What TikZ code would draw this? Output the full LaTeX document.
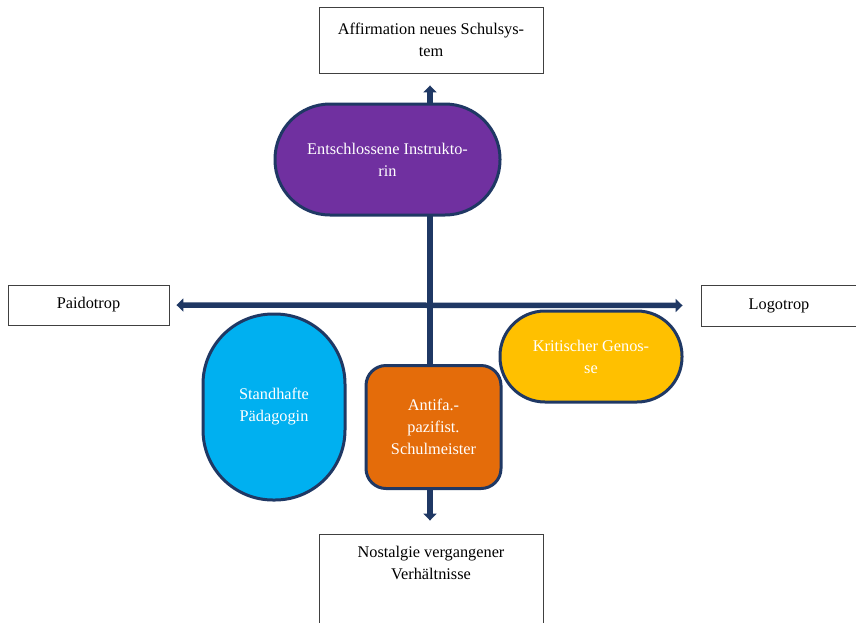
\documentclass[tikz,border=0pt]{standalone}
\usepackage{fontspec}
\setmainfont{Liberation Serif}
\usetikzlibrary{arrows.meta}
\definecolor{navy}{HTML}{1F3864}
\definecolor{purp}{HTML}{7030A0}
\definecolor{sky}{HTML}{00B0F0}
\definecolor{orng}{HTML}{E46C0A}
\definecolor{gold}{HTML}{FFC000}
\tikzset{
  txt/.style={font=\fontsize{16.3}{22}\selectfont, align=center},
  labelbox/.style={draw=black!75, line width=0.9pt, fill=white, inner sep=0pt},
  shapebox/.style={draw=navy, line width=3pt, inner sep=0pt, text=white, txt},
  axis/.style={draw=navy, line width=5.5pt, {Triangle[width=13pt,length=7pt]}-{Triangle[width=13pt,length=7pt]}},
}
\begin{document}
\begin{tikzpicture}[x=1pt,y=-1pt]
\clip (0,0) rectangle (856,622);
\fill[white] (0,0) rectangle (856,622);
% label boxes
\node[labelbox, minimum width=224pt, minimum height=66pt] (top) at (431,40) {};
\node[txt, anchor=center] (toptext) at (431,40) {Affirmation neues Schulsys-\\tem};
\node[labelbox, minimum width=161pt, minimum height=40pt] (paido) at (88.5,305) {};
\node[txt] (paidotext) at (88.5,305) {Paidotrop};
\node[labelbox, minimum width=170pt, minimum height=41pt] (logo) at (786,305.5) {};
\node[txt] (logotext) at (779,305.5) {Logotrop};
\node[labelbox, minimum width=224pt, minimum height=110pt] (bot) at (431,589) {};
\node[txt, anchor=north] (bottext) at (431,543) {Nostalgie vergangener\\Verhältnisse};
% axes
\draw[axis, shorten <=13pt, shorten >=12pt] (bot.north -| 430,0) -- (top.south -| 430,0);
\draw[axis, shorten <=7pt, shorten >=18pt] (paido.east) -- (logo.west);
% shapes
\node[shapebox, fill=purp, minimum width=225pt, minimum height=111pt, rounded corners=55pt] (purple) at (387.5,159.5) {Entschlossene Instrukto-\\rin};
\node[shapebox, fill=sky, minimum width=142pt, minimum height=186pt, rounded corners=70pt] (blue) at (274,407) {Standhafte\\Pädagogin};
\node[shapebox, fill=orng, minimum width=135pt, minimum height=123pt, rounded corners=20pt] (orange) at (433.5,427) {Antifa.-\\pazifist.\\Schulmeister};
\node[shapebox, fill=gold, minimum width=182pt, minimum height=91pt, rounded corners=45pt] (yellow) at (591,356.5) {Kritischer Genos-\\se};
\end{tikzpicture}
\end{document}
